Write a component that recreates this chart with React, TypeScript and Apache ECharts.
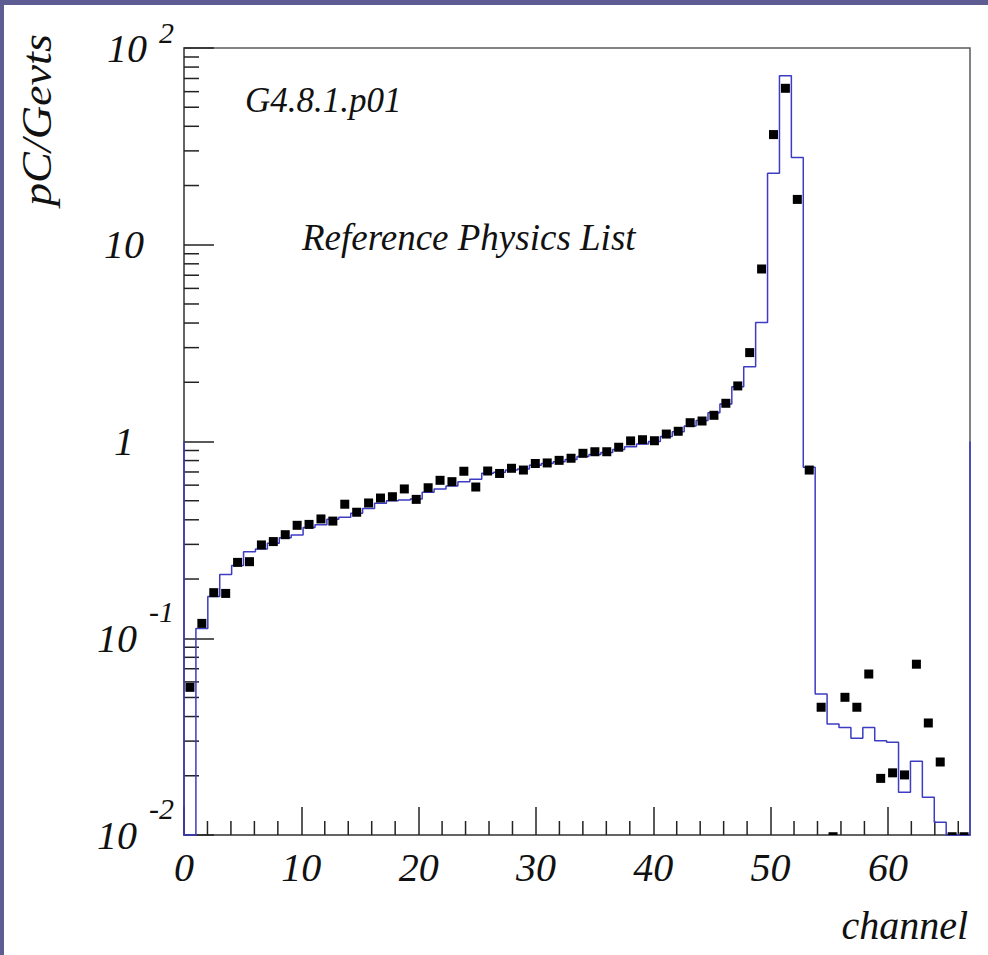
import { useEffect, useRef } from "react";
import * as echarts from "echarts";

// ---------- data ----------
const X_MIN = 0;
const X_MAX = 67;
const Y_MIN = 0.01;
const Y_MAX = 100;
const BIN_COUNT = 66;

// simulation histogram (blue step line), one value per bin; 0 = empty bin
const histValues = [
  0, 0.112, 0.163, 0.211, 0.234, 0.275, 0.284, 0.304, 0.324, 0.335,
  0.365, 0.377, 0.403, 0.412, 0.432, 0.457, 0.485, 0.5, 0.505, 0.51,
  0.552, 0.574, 0.594, 0.625, 0.643, 0.689, 0.697, 0.716, 0.724, 0.757,
  0.774, 0.79, 0.81, 0.84, 0.86, 0.88, 0.91, 0.94, 0.97, 1.0,
  1.06, 1.12, 1.2, 1.28, 1.4, 1.55, 1.9, 2.4, 4.03, 23.1,
  72.3, 27.8, 0.74, 0.0521, 0.0367, 0.0352, 0.031, 0.0352, 0.0301, 0.0296,
  0.0165, 0.0237, 0.01556, 0.0116, 0, 0,
];

// data points (black squares), one per bin
const dataValues = [
  0.0563, 0.119, 0.1705, 0.169, 0.243, 0.245, 0.298, 0.31, 0.336, 0.375,
  0.379, 0.404, 0.394, 0.48, 0.437, 0.487, 0.516, 0.524, 0.574, 0.508,
  0.582, 0.635, 0.625, 0.706, 0.587, 0.708, 0.688, 0.731, 0.716, 0.773,
  0.778, 0.802, 0.822, 0.871, 0.887, 0.887, 0.935, 1.007, 1.021, 1.009,
  1.091, 1.127, 1.246, 1.271, 1.359, 1.564, 1.916, 2.83, 7.53, 36.3,
  62.4, 17.0, 0.716, 0.0446, 0.0098, 0.0501, 0.0446, 0.0658, 0.0194, 0.0207,
  0.0202, 0.0738, 0.0371, 0.0235, 0.0098, 0.0098,
];

// heights reached by the histogram's outer vertical edges (left, right)
const edgeTops = [1.0, 1.0];

const xMinorTicks = [
  2, 4, 6, 8, 12, 14, 16, 18, 22, 24, 26, 28, 32, 34, 36, 38,
  42, 44, 46, 48, 52, 54, 56, 58, 62, 64, 66,
];
const yMinorTicks = [
  0.02, 0.03, 0.04, 0.05, 0.06, 0.07, 0.08, 0.09,
  0.2, 0.3, 0.4, 0.5, 0.6, 0.7, 0.8, 0.9,
  2, 3, 4, 5, 6, 7, 8, 9,
  20, 30, 40, 50, 60, 70, 80, 90,
];
const yTickLabels = [
  { exp: -2, base: "10", sup: "-2" },
  { exp: -1, base: "10", sup: "-1" },
  { exp: 0, base: "1", sup: "" },
  { exp: 1, base: "10", sup: "" },
  { exp: 2, base: "10", sup: "2" },
];

const SERIF = "'Liberation Serif', 'DejaVu Serif', serif";
const TEXT = "#111";
const BLUE = "#3c3cc4";
const FRAME = "#5a5a5a";

export default function App() {
  const ref = useRef<HTMLDivElement>(null);

  useEffect(() => {
    document.body.style.margin = "0";
    if (!ref.current) return;
    const chart = echarts.init(ref.current, undefined, { renderer: "svg" });

    const binW = (X_MAX - X_MIN) / BIN_COUNT;
    const step: number[][] = [];
    step.push([X_MIN, edgeTops[0]]);
    step.push([X_MIN, Y_MIN]);
    histValues.forEach((v, i) => {
      const y = v > Y_MIN ? v : Y_MIN;
      step.push([X_MIN + i * binW, y]);
      step.push([X_MIN + (i + 1) * binW, y]);
    });
    step.push([X_MAX, Y_MIN]);
    step.push([X_MAX, edgeTops[1]]);

    const points = dataValues.map((v, i) => [X_MIN + (i + 0.5) * binW, v]);

    const italic = { fontFamily: SERIF, fontStyle: "italic" as const, color: TEXT };

    chart.setOption({
      animation: false,
      backgroundColor: "#ffffff",
      grid: {
        left: 184,
        top: 48,
        width: 786,
        height: 787,
        show: true,
        borderColor: FRAME,
        borderWidth: 1.5,
        backgroundColor: "transparent",
      },
      xAxis: {
        type: "value",
        min: X_MIN,
        max: X_MAX,
        interval: 10,
        splitLine: { show: false },
        axisLine: { show: true, lineStyle: { color: FRAME, width: 1.5 } },
        axisTick: { show: true, inside: true, length: 28, lineStyle: { color: "#222", width: 1.5 } },
        axisLabel: {
          ...italic,
          fontSize: 40,
          margin: 12,
          showMaxLabel: false,
        },
      },
      yAxis: {
        type: "log",
        logBase: 10,
        min: Y_MIN,
        max: Y_MAX,
        splitLine: { show: false },
        axisLine: { show: true, lineStyle: { color: FRAME, width: 1.5 } },
        axisTick: { show: true, inside: true, length: 30, lineStyle: { color: "#222", width: 1.5 } },
        axisLabel: {
          margin: 10,
          formatter: (v: number) => {
            const e = Math.round(Math.log10(v));
            const t = yTickLabels.find((d) => d.exp === e);
            if (!t) return "";
            if (t.sup) return e > 0 ? `{bt|${t.base}}{s|${t.sup}}` : `{b|${t.base}}{s|${t.sup}}`;
            return t.base === "1" ? `{one|${t.base}}` : `{ten|${t.base}}`;
          },
          rich: {
            b: { ...italic, fontSize: 40, lineHeight: 84 },
            bt: { ...italic, fontSize: 40, lineHeight: 62 },
            s: { ...italic, fontSize: 30, lineHeight: 6, verticalAlign: "top", padding: [0, 0, 0, 12] },
            ten: { ...italic, fontSize: 40, lineHeight: 40, padding: [0, 30, 0, 0] },
            one: { ...italic, fontSize: 40, lineHeight: 40, padding: [0, 40, 0, 0] },
          },
        },
      },
      series: [
        {
          type: "custom",
          name: "yMinor",
          silent: true,
          z: 3,
          data: yMinorTicks.map((v) => [X_MIN, v]),
          renderItem: (_p: any, api: any) => {
            const c = api.coord([api.value(0), api.value(1)]);
            return {
              type: "line",
              shape: { x1: c[0], y1: c[1], x2: c[0] + 15, y2: c[1] },
              style: { stroke: "#222", lineWidth: 1.5 },
            };
          },
        },
        {
          type: "custom",
          name: "xMinor",
          silent: true,
          z: 3,
          data: xMinorTicks.map((v) => [v, Y_MIN]),
          renderItem: (_p: any, api: any) => {
            const c = api.coord([api.value(0), api.value(1)]);
            return {
              type: "line",
              shape: { x1: c[0], y1: c[1], x2: c[0], y2: c[1] - 14 },
              style: { stroke: "#222", lineWidth: 1.5 },
            };
          },
        },
        {
          type: "line",
          name: "simulation",
          data: step,
          showSymbol: false,
          clip: false,
          z: 4,
          lineStyle: { color: BLUE, width: 1.5 },
          silent: true,
        },
        {
          type: "custom",
          name: "data",
          clip: true,
          z: 5,
          silent: true,
          data: points,
          renderItem: (_p: any, api: any) => {
            const c = api.coord([api.value(0), api.value(1)]);
            return {
              type: "rect",
              shape: { x: c[0] - 4.5, y: c[1] - 4.5, width: 9, height: 9 },
              style: { fill: "#000" },
            };
          },
        },
      ],
      graphic: [
        { type: "rect", left: 0, top: 0, shape: { width: 988, height: 5 }, style: { fill: "#5d5d94" }, silent: true },
        { type: "rect", left: 0, top: 0, shape: { width: 4, height: 955 }, style: { fill: "#5d5d94" }, silent: true },
        {
          type: "text",
          x: 37,
          y: 206,
          rotation: Math.PI / 2,
          scaleX: 1.1,
          style: {
            text: "pC/Gevts",
            font: `italic 42px ${SERIF}`,
            fill: TEXT,
            textAlign: "left",
            textVerticalAlign: "middle",
          },
        },
        {
          type: "text",
          x: 968,
          y: 925,
          style: {
            text: "channel",
            font: `italic 40px ${SERIF}`,
            fill: TEXT,
            textAlign: "right",
            textVerticalAlign: "middle",
          },
        },
        {
          type: "text",
          x: 245,
          y: 100,
          style: {
            text: "G4.8.1.p01",
            font: `italic 35px ${SERIF}`,
            fill: TEXT,
            textAlign: "left",
            textVerticalAlign: "middle",
          },
        },
        {
          type: "text",
          x: 302,
          y: 237,
          style: {
            text: "Reference Physics List",
            font: `italic 37px ${SERIF}`,
            fill: TEXT,
            textAlign: "left",
            textVerticalAlign: "middle",
          },
        },
      ],
    });

    return () => chart.dispose();
  }, []);

  return <div ref={ref} style={{ width: 988, height: 955 }} />;
}
